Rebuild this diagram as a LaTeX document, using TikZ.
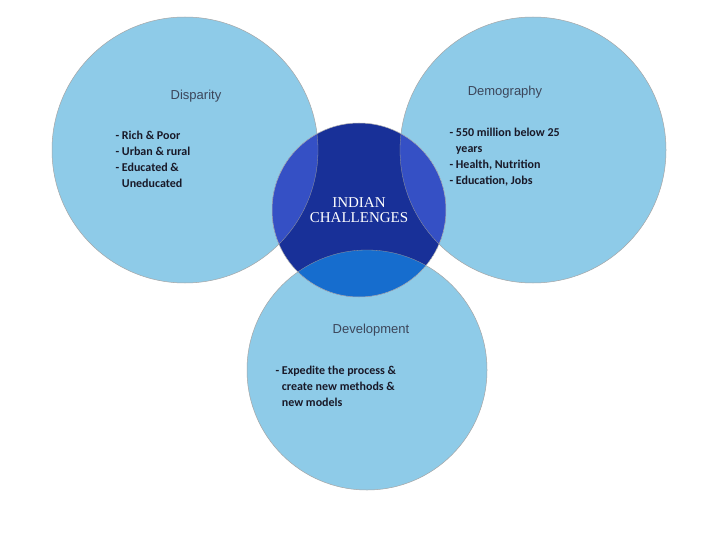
\documentclass[tikz,border=0pt]{standalone}
\usepackage{fontspec}
\setmainfont{Carlito}
\newfontfamily\hdfont{Liberation Sans}
\newfontfamily\serfont{Liberation Serif}
\definecolor{dk}{RGB}{30,60,190}
\definecolor{mid}{RGB}{40,100,220}
\definecolor{lb}{RGB}{142,203,232}
\definecolor{tc}{RGB}{60,70,90}
\definecolor{bc}{RGB}{25,25,40}
\begin{document}
\begin{tikzpicture}[x=1pt,y=-1pt,
  bubble/.style={circle,draw=gray!70,line width=0.5pt,fill=lb,inner sep=0pt},
  title/.style={font=\hdfont\fontsize{13}{15}\selectfont,text=tc},
  body/.style={font=\fontsize{12}{16}\selectfont\bfseries,text=bc,align=left,anchor=north west}]
\useasboundingbox (0,0) rectangle (720,540);
\fill[white] (0,0) rectangle (720,540);
\node[bubble,minimum size=266pt] (l) at (185,150) {};
\node[bubble,minimum size=266pt] (r) at (533,150) {};
\node[bubble,minimum size=240pt] (b) at (367,370) {};
\begin{scope}
\clip (359,210) circle (87);
\fill[dk!80!black] (359,210) circle (87);
\fill[dk!90] (185,150) circle (133);
\fill[dk!90] (533,150) circle (133);
\fill[dk!75!cyan] (367,370) circle (120);
\begin{scope}\clip (185,150) circle (133); \fill[dk] (533,150) circle (133); \end{scope}
\begin{scope}\clip (185,150) circle (133); \fill[dk!85!cyan] (367,370) circle (120); \end{scope}
\begin{scope}\clip (533,150) circle (133); \fill[dk!85!cyan] (367,370) circle (120); \end{scope}
\begin{scope}\clip (185,150) circle (133); \clip (533,150) circle (133); \fill[mid] (367,370) circle (120); \end{scope}
\draw[black!40,line width=0.3pt] (185,150) circle (133) (533,150) circle (133) (367,370) circle (120);
\end{scope}
\node[circle,draw=gray!60,line width=0.5pt,minimum size=174pt] (c) at (359,210) {};
\node[font=\serfont\fontsize{15}{17}\selectfont,text=white,align=center] (ct) at (c) {INDIAN\\[-2pt]CHALLENGES};
\node[title] (lt) at (196,96) {Disparity};
\node[title] (rt) at (505,92) {Demography};
\node[title] (bt) at (371,330) {Development};
\node[body] (lbx) at (112,128) {- Rich \& Poor\\- Urban \& rural\\- Educated \&\\\phantom{- }Uneducated};
\node[body] (rb) at (446,125) {- 550 million below 25\\\phantom{- }years\\- Health, Nutrition\\- Education, Jobs};
\node[body] (bb) at (272,363) {- Expedite the process \&\\\phantom{- }create new methods \&\\\phantom{- }new models};
\end{tikzpicture}
\end{document}
